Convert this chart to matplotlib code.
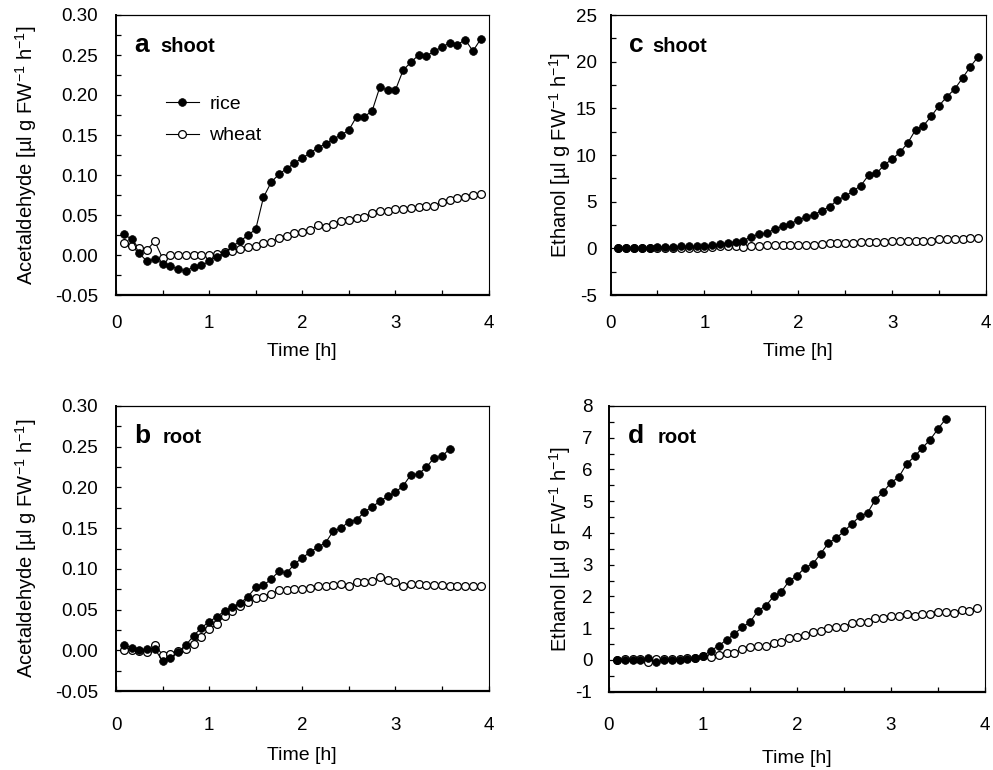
import numpy as np
import matplotlib
matplotlib.use("Agg")
import matplotlib.pyplot as plt
from matplotlib.ticker import MultipleLocator, FormatStrFormatter

plt.rcParams['font.family'] = ['Liberation Sans', 'DejaVu Sans']
plt.rcParams['mathtext.fontset'] = 'custom'
plt.rcParams['mathtext.rm'] = 'Liberation Sans'
plt.rcParams['mathtext.it'] = 'Liberation Sans:italic'
plt.rcParams['mathtext.bf'] = 'Liberation Sans:bold'
plt.rcParams['axes.unicode_minus'] = False

# sampling every 5 min
time_min = list(range(5, 240, 5))

# a: acetaldehyde, shoot
acet_shoot_rice = [0.026, 0.020, 0.002, -0.008, -0.005, -0.011, -0.014, -0.0175, -0.020, -0.015,
                   -0.013, -0.008, -0.002, 0.003, 0.011, 0.017, 0.025, 0.032, 0.072, 0.091,
                   0.101, 0.108, 0.115, 0.121, 0.1275, 0.134, 0.139, 0.145, 0.150, 0.156,
                   0.173, 0.173, 0.180, 0.210, 0.206, 0.206, 0.231, 0.241, 0.250, 0.249,
                   0.2545, 0.260, 0.265, 0.263, 0.269, 0.255, 0.270]
acet_shoot_wheat = [0.0146, 0.0117, 0.009, 0.0067, 0.017, -0.004, 0.0, 0.0, 0.0, 0.0,
                    0.0, 0.0, 0.001, 0.0033, 0.0054, 0.0075, 0.0104, 0.0117, 0.0146, 0.0166,
                    0.021, 0.024, 0.027, 0.029, 0.031, 0.0375, 0.035, 0.039, 0.042, 0.044,
                    0.046, 0.048, 0.052, 0.0546, 0.0554, 0.0575, 0.0575, 0.0587, 0.060, 0.061,
                    0.061, 0.0667, 0.069, 0.071, 0.073, 0.075, 0.076]

# b: acetaldehyde, root
acet_root_rice = [0.0063, 0.0034, 0.0, 0.002, 0.002, -0.0135, -0.0094, -0.002, 0.0063, 0.0178,
                  0.0277, 0.035, 0.0413, 0.0483, 0.0537, 0.0578, 0.066, 0.0772, 0.0797, 0.0875,
                  0.097, 0.095, 0.106, 0.1135, 0.1205, 0.1267, 0.132, 0.1465, 0.150, 0.158,
                  0.160, 0.170, 0.176, 0.183, 0.189, 0.194, 0.202, 0.2155, 0.2167, 0.225,
                  0.2365, 0.238, 0.2476]
acet_root_wheat = [0.0, 0.0, -0.001, -0.002, 0.006, -0.0053, -0.005, -0.0011, 0.002, 0.0083,
                   0.0166, 0.026, 0.032, 0.0426, 0.0483, 0.054, 0.0587, 0.064, 0.066, 0.0694,
                   0.0735, 0.0735, 0.075, 0.075, 0.0764, 0.0785, 0.0785, 0.0797, 0.082, 0.0785,
                   0.0834, 0.0834, 0.0846, 0.090, 0.0867, 0.0834, 0.0785, 0.082, 0.082, 0.0806,
                   0.0797, 0.0797, 0.0785, 0.0785, 0.0785, 0.0785, 0.079]

# c: ethanol, shoot
eth_shoot_rice = [0.0, 0.0, 0.05, 0.05, 0.05, 0.1, 0.1, 0.1, 0.2, 0.2,
                  0.2, 0.2, 0.35, 0.46, 0.57, 0.71, 0.82, 1.25, 1.53, 1.64,
                  2.07, 2.36, 2.60, 3.07, 3.32, 3.60, 4.03, 4.46, 5.18, 5.57,
                  6.14, 6.71, 7.86, 8.04, 8.93, 9.57, 10.29, 11.29, 12.71, 13.14,
                  14.15, 15.28, 16.25, 17.07, 18.25, 19.46, 20.54]
eth_shoot_wheat = [0.0, 0.0, 0.0, 0.0, 0.0, 0.0, 0.05, 0.05, 0.05, 0.05,
                   0.05, 0.05, 0.15, 0.2, 0.2, 0.2, 0.15, 0.2, 0.3, 0.35,
                   0.4, 0.4, 0.4, 0.4, 0.4, 0.35, 0.5, 0.55, 0.55, 0.55,
                   0.6, 0.7, 0.7, 0.7, 0.7, 0.8, 0.8, 0.8, 0.8, 0.8,
                   0.8, 0.95, 0.95, 0.95, 0.95, 1.1, 1.1]

# d: ethanol, root
eth_root_rice = [0.0, 0.0, 0.0, 0.0, 0.05, -0.08, 0.0, 0.0, 0.0, 0.02,
                 0.05, 0.13, 0.29, 0.45, 0.63, 0.82, 1.03, 1.19, 1.55, 1.70,
                 2.0, 2.15, 2.49, 2.65, 2.91, 3.02, 3.34, 3.68, 3.84, 4.05,
                 4.29, 4.52, 4.63, 5.05, 5.29, 5.59, 5.76, 6.18, 6.41, 6.68,
                 6.94, 7.28, 7.60]
eth_root_wheat = [0.0, 0.02, 0.02, 0.02, -0.07, 0.02, 0.02, 0.02, 0.02, 0.07,
                  0.07, 0.13, 0.1, 0.16, 0.21, 0.23, 0.34, 0.42, 0.45, 0.45,
                  0.52, 0.58, 0.68, 0.71, 0.79, 0.87, 0.92, 1.0, 1.05, 1.05,
                  1.16, 1.19, 1.21, 1.33, 1.33, 1.40, 1.40, 1.44, 1.40, 1.44,
                  1.44, 1.52, 1.50, 1.47, 1.58, 1.55, 1.63]

t = np.array(time_min) / 60.0

fig = plt.figure(figsize=(9.93, 7.70), dpi=100)

W, H = 993.0, 770.0
def box(l, r, top, bot):
    return [l / W, 1 - bot / H, (r - l) / W, (bot - top) / H]

panels = [
    dict(rect=box(116, 488.5, 15, 295), rice=acet_shoot_rice, wheat=acet_shoot_wheat,
         ylim=(-0.05, 0.30), major=0.05, minor=0.025, fmt='%.2f', letter='a', word='shoot',
         ylab='Acetaldehyde', ylx=-0.208, xly=-0.172, xpad=14.5, ypad=13, wx=0.118),
    dict(rect=box(116, 488.5, 406, 691), rice=acet_root_rice, wheat=acet_root_wheat,
         ylim=(-0.05, 0.30), major=0.05, minor=0.025, fmt='%.2f', letter='b', word='root',
         ylab='Acetaldehyde', ylx=-0.208, xly=-0.198, xpad=18.5, ypad=13, wx=0.126),
    dict(rect=box(610.5, 986, 15, 295), rice=eth_shoot_rice, wheat=eth_shoot_wheat,
         ylim=(-5, 25), major=5, minor=2.5, fmt='%d', letter='c', word='shoot',
         ylab='Ethanol', ylx=-0.100, xly=-0.172, xpad=14.5, ypad=10, wx=0.110),
    dict(rect=box(609, 985, 406, 691.7), rice=eth_root_rice, wheat=eth_root_wheat,
         ylim=(-1, 8), major=1, minor=0.5, fmt='%d', letter='d', word='root',
         ylab='Ethanol', ylx=-0.097, xly=-0.203, xpad=18.5, ypad=12, wx=0.130),
]

for i, p in enumerate(panels):
    ax = fig.add_axes(p['rect'])
    rice = p['rice']
    wheat = p['wheat']
    ax.plot(t[:len(wheat)], wheat, '-o', color='black', lw=0.8, ms=5.6,
            mfc='white', mec='black', mew=0.9, label='wheat', zorder=2)
    ax.plot(t[:len(rice)], rice, '-o', color='black', lw=0.8, ms=5.6,
            mfc='black', mec='black', mew=0.5, label='rice', zorder=3)
    ax.set_xlim(0, 4)
    ax.set_ylim(*p['ylim'])
    ax.xaxis.set_major_locator(MultipleLocator(1))
    ax.xaxis.set_minor_locator(MultipleLocator(0.5))
    ax.yaxis.set_major_locator(MultipleLocator(p['major']))
    ax.yaxis.set_minor_locator(MultipleLocator(p['minor']))
    ax.yaxis.set_major_formatter(FormatStrFormatter(p['fmt']))
    ax.tick_params(which='both', direction='in', top=False, right=False,
                   length=3.5, width=0.9, labelsize=13.5)
    ax.tick_params(axis='x', which='major', pad=p['xpad'])
    ax.tick_params(axis='y', which='major', pad=p['ypad'])
    ax.spines['left'].set_linewidth(1.4)
    ax.spines['bottom'].set_linewidth(1.6)
    ax.spines['top'].set_linewidth(0.9)
    ax.spines['right'].set_linewidth(0.8)
    ax.set_xlabel('Time [h]', fontsize=14)
    ax.xaxis.set_label_coords(0.5, p['xly'])
    ax.set_ylabel(p['ylab'] + r' [µl g FW$^{-1}$ h$^{-1}$]', fontsize=14.5)
    ax.yaxis.set_label_coords(p['ylx'], 0.5)
    ax.text(0.05, 0.869, p['letter'], transform=ax.transAxes, fontsize=19,
            fontweight='bold', ha='left', va='baseline')
    ax.text(p['wx'], 0.869, p['word'], transform=ax.transAxes, fontsize=14.5,
            fontweight='bold', ha='left', va='baseline')
    if i == 0:
        h, l = ax.get_legend_handles_labels()
        ax.legend(h[::-1], l[::-1], loc='upper left', bbox_to_anchor=(0.133, 0.712),
                  frameon=False, fontsize=14, handlelength=1.7, handletextpad=0.55,
                  labelspacing=0.7, borderpad=0, borderaxespad=0)

fig.savefig('out.png', dpi=100)
